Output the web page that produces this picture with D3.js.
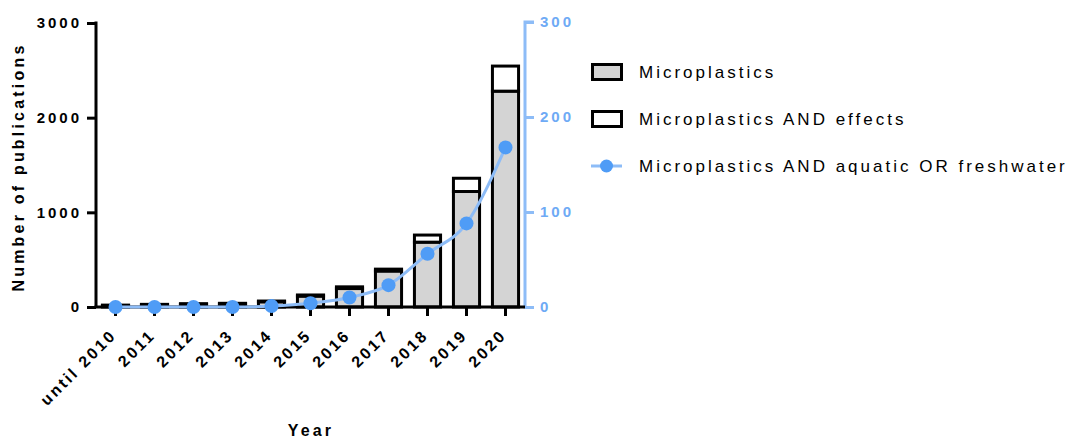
<!DOCTYPE html>
<html>
<head>
<meta charset="utf-8">
<script src="https://cdn.jsdelivr.net/npm/d3@7"></script>
<style>
  body { margin: 0; background: #fff; }
  svg { display: block; font-family: "Liberation Sans", Arial, sans-serif; }
</style>
</head>
<body>
<svg id="chart" width="1069" height="439"></svg>
<script>
// Publication counts per year
const years = ["until 2010", "2011", "2012", "2013", "2014", "2015", "2016", "2017", "2018", "2019", "2020"];
const microplastics = [15, 22, 28, 33, 55, 115, 195, 380, 685, 1220, 2280];
const effects = [5, 6, 7, 6, 8, 12, 18, 20, 75, 140, 265];
const aquatic = [0, 0, 0, 0, 1, 4, 10, 23, 56, 88, 168];
const leftTicks = [0, 1000, 2000, 3000];
const rightTicks = [0, 100, 200, 300];
const legendLabels = ["Microplastics", "Microplastics AND effects", "Microplastics AND aquatic OR freshwater"];

const svg = d3.select("#chart");
const blue = "#8dbcf7", blueDot = "#4f9cf6", blueText = "#6eaaf5";

const x = d3.scaleBand().domain(years).range([96, 525]).paddingInner(0.33).paddingOuter(0.165);
const yL = d3.scaleLinear().domain([0, 3000]).range([307, 23]);
const yR = d3.scaleLinear().domain([0, 300]).range([307, 22]);

// stacked bars
const g = svg.append("g");
years.forEach((yr, i) => {
  const base = microplastics[i];
  g.append("rect")
    .attr("x", x(yr)).attr("width", x.bandwidth())
    .attr("y", yL(base)).attr("height", yL(0) - yL(base))
    .attr("fill", "#d4d4d4").attr("stroke", "#000").attr("stroke-width", 3);
  g.append("rect")
    .attr("x", x(yr)).attr("width", x.bandwidth())
    .attr("y", yL(base + effects[i])).attr("height", yL(base) - yL(base + effects[i]))
    .attr("fill", "#fff").attr("stroke", "#000").attr("stroke-width", 3);
});

// left axis
const axL = svg.append("g").attr("transform", "translate(96,0)")
  .call(d3.axisLeft(yL).tickValues(leftTicks).tickSize(9).tickPadding(5).tickFormat(d3.format("d")));
axL.select(".domain").attr("stroke-width", 3).attr("d", "M0,21.5V307");
axL.selectAll(".tick line").attr("stroke-width", 3);
axL.selectAll("text").attr("font-size", 15).attr("font-weight", "bold").attr("letter-spacing", 3).attr("fill", "#000");

// right axis
const axR = svg.append("g").attr("transform", "translate(525,0)")
  .call(d3.axisRight(yR).tickValues(rightTicks).tickSize(9).tickPadding(6));
axR.select(".domain").attr("stroke", blue).attr("stroke-width", 3).attr("d", "M9,22H0V308.5");
axR.selectAll(".tick line").attr("stroke", blue).attr("stroke-width", 3);
axR.selectAll("text").attr("font-size", 15).attr("font-weight", "bold").attr("letter-spacing", 3).attr("fill", blueText);

// bottom axis with slanted labels
const axB = svg.append("g").attr("transform", "translate(0,307)")
  .call(d3.axisBottom(x).tickSize(9).tickPadding(4));
axB.select(".domain").attr("stroke-width", 3).attr("d", "M94.5,0H525");
axB.selectAll(".tick line").attr("stroke-width", 3);
axB.selectAll("text")
  .attr("font-size", 16).attr("font-weight", "bold").attr("letter-spacing", 2.6).attr("fill", "#000")
  .attr("text-anchor", "end").attr("x", 0).attr("y", 0).attr("dy", 0)
  .attr("transform", "translate(2,29) rotate(-45)");

// line series
const cx = d => x(d) + x.bandwidth() / 2;
svg.append("path")
  .datum(aquatic)
  .attr("fill", "none").attr("stroke", blue).attr("stroke-width", 3)
  .attr("d", d3.line().x((d, i) => cx(years[i])).y(d => yR(d)).curve(d3.curveMonotoneX));
svg.append("g").selectAll("circle").data(aquatic).join("circle")
  .attr("cx", (d, i) => cx(years[i])).attr("cy", d => yR(d)).attr("r", 7).attr("fill", blueDot);

// axis titles
svg.append("text").attr("transform", "translate(24,167) rotate(-90)")
  .attr("text-anchor", "middle").attr("font-size", 16).attr("font-weight", "bold").attr("letter-spacing", 3.2)
  .text("Number of publications");
svg.append("text").attr("x", 311).attr("y", 436)
  .attr("text-anchor", "middle").attr("font-size", 16).attr("font-weight", "bold").attr("letter-spacing", 3.2)
  .text("Year");

// legend
const lg = svg.append("g");
const rowY = [72, 119, 166];
lg.append("rect").attr("x", 592.5).attr("y", 64.5).attr("width", 29).attr("height", 15)
  .attr("fill", "#d4d4d4").attr("stroke", "#000").attr("stroke-width", 3);
lg.append("rect").attr("x", 592.5).attr("y", 111.5).attr("width", 29).attr("height", 15)
  .attr("fill", "#fff").attr("stroke", "#000").attr("stroke-width", 3);
lg.append("line").attr("x1", 591).attr("x2", 622).attr("y1", rowY[2]).attr("y2", rowY[2])
  .attr("stroke", blue).attr("stroke-width", 3);
lg.append("circle").attr("cx", 606.5).attr("cy", rowY[2]).attr("r", 6.5).attr("fill", blueDot);
legendLabels.forEach((t, i) => {
  lg.append("text").attr("x", 639).attr("y", rowY[i]).attr("dy", "0.36em")
    .attr("font-size", 17).attr("letter-spacing", 3).attr("fill", "#000").text(t);
});
</script>
</body>
</html>
